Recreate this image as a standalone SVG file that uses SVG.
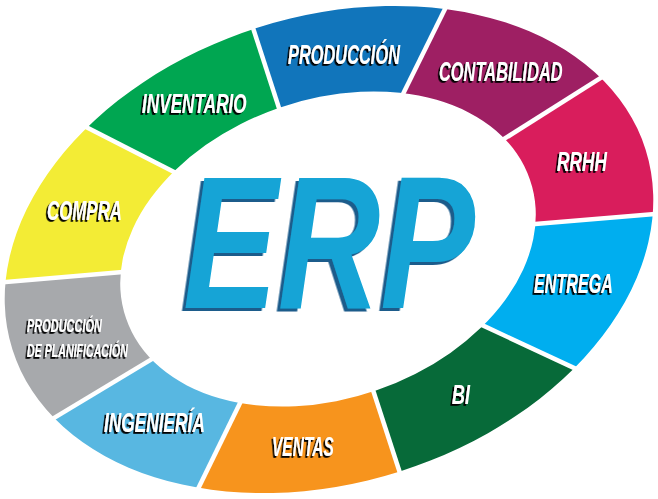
<svg xmlns="http://www.w3.org/2000/svg" width="658" height="499" viewBox="0 0 658 499">
<defs>
<style>
.seg { clip-path: url(#ring); }
.lbl { font-family: "Liberation Sans", Arial, sans-serif; font-weight: bold; font-style: italic; font-size: 28px; fill: #ffffff; filter: url(#ts); }
.sm { font-size: 19px; }
.sep { stroke: #ffffff; stroke-width: 4.5; fill: none; }
.erp { font-family: "Liberation Sans", Arial, sans-serif; font-weight: bold; font-style: italic; font-size: 190px; fill: #12a4d6; filter: url(#es); }
</style>
<clipPath id="ring">
<path clip-rule="evenodd" d="M 645.64 149.66 A 332 233 -17.5 1 0 12.36 349.34 A 332 233 -17.5 1 0 645.64 149.66 Z M 529.87 179.51 A 213.5 149 -19 1 0 126.13 318.51 A 213.5 149 -19 1 0 529.87 179.51 Z"/>
</clipPath>
<filter id="ts" x="-20%" y="-30%" width="140%" height="160%">
<feDropShadow dx="-3" dy="1.8" stdDeviation="0" flood-color="#000000" flood-opacity="1"/>
</filter>
<filter id="es" x="-10%" y="-10%" width="120%" height="120%">
<feDropShadow dx="-4.7" dy="3" stdDeviation="0" flood-color="#1b5c8b" flood-opacity="1"/>
</filter>
</defs>
<rect width="658" height="499" fill="#ffffff"/>

<g id="produccion">
<polygon class="seg" fill="#1175bb" points="291.5,146.5 204,-123 531,-165 380.5,139.5"/>
<text class="lbl" transform="translate(288,64) scale(0.5855,1)">PRODUCCIÓN</text>
</g>
<g id="contabilidad">
<polygon class="seg" fill="#9e1f63" points="380.5,139.5 531,-165 798,-47 455,170"/>
<text class="lbl" transform="translate(439,81) scale(0.5866,1)">CONTABILIDAD</text>
</g>
<g id="rrhh">
<polygon class="seg" fill="#d91d5c" points="455,170 798,-47 892,194 475.5,229"/>
<text class="lbl" transform="translate(557,171) scale(0.618,1)">RRHH</text>
</g>
<g id="entrega">
<polygon class="seg" fill="#00aeef" points="475.5,229 892,194 748,449 440,305.5"/>
<text class="lbl" transform="translate(534,293) scale(0.577,1)">ENTREGA</text>
</g>
<g id="bi">
<polygon class="seg" fill="#076a39" points="440,305.5 748,449 451,630 360,350"/>
<text class="lbl" transform="translate(452,404) scale(0.643,1)">BI</text>
</g>
<g id="ventas">
<polygon class="seg" fill="#f7941d" points="360,350 451,630 112,665 262.5,357"/>
<text class="lbl" transform="translate(272,456) scale(0.555,1)">VENTAS</text>
</g>
<g id="ingenieria">
<polygon class="seg" fill="#58b7e1" points="262.5,357 112,665 -142,536 201,329.5"/>
<text class="lbl" transform="translate(104,432) scale(0.618,1)">INGENIERÍA</text>
</g>
<g id="produccion-planificacion">
<polygon class="seg" fill="#a7a9ac" points="201,329.5 -142,536 -225,302 181,267"/>
<text class="lbl sm" transform="translate(27,332) scale(0.578,1)">PRODUCCIÓN</text>
<text class="lbl sm" transform="translate(27,357) scale(0.56,1)">DE PLANIFICACIÓN</text>
</g>
<g id="compra">
<polygon class="seg" fill="#f3ec35" points="181,267 -225,302 -78,43 216,193.5"/>
<text class="lbl" transform="translate(47,220) scale(0.603,1)">COMPRA</text>
</g>
<g id="inventario">
<polygon class="seg" fill="#00a651" points="216,193.5 -78,43 204,-123 291.5,146.5"/>
<text class="lbl" transform="translate(142,113) scale(0.614,1)">INVENTARIO</text>
</g>

<g id="separators">
<line class="sep" x1="397.7" y1="104.7" x2="449.3" y2="0.3"/>
<line class="sep" x1="281.5" y1="115.7" x2="251.5" y2="23.3"/>
<line class="sep" x1="182.4" y1="176.3" x2="81.6" y2="124.7"/>
<line class="sep" x1="134.6" y1="271" x2="-4.6" y2="283"/>
<line class="sep" x1="161.8" y1="353.1" x2="44.2" y2="423.9"/>
<line class="sep" x1="245.3" y1="392.2" x2="193.7" y2="497.8"/>
<line class="sep" x1="370.4" y1="382" x2="401.6" y2="478"/>
<line class="sep" x1="475.2" y1="321.9" x2="580.8" y2="371.1"/>
<line class="sep" x1="523.1" y1="225" x2="665.9" y2="213"/>
<line class="sep" x1="494.2" y1="145.2" x2="611.8" y2="70.8"/>
</g>

<g id="erp">
<text class="erp" transform="translate(183,308) scale(0.7476,1)">ERP</text>
</g>
</svg>
